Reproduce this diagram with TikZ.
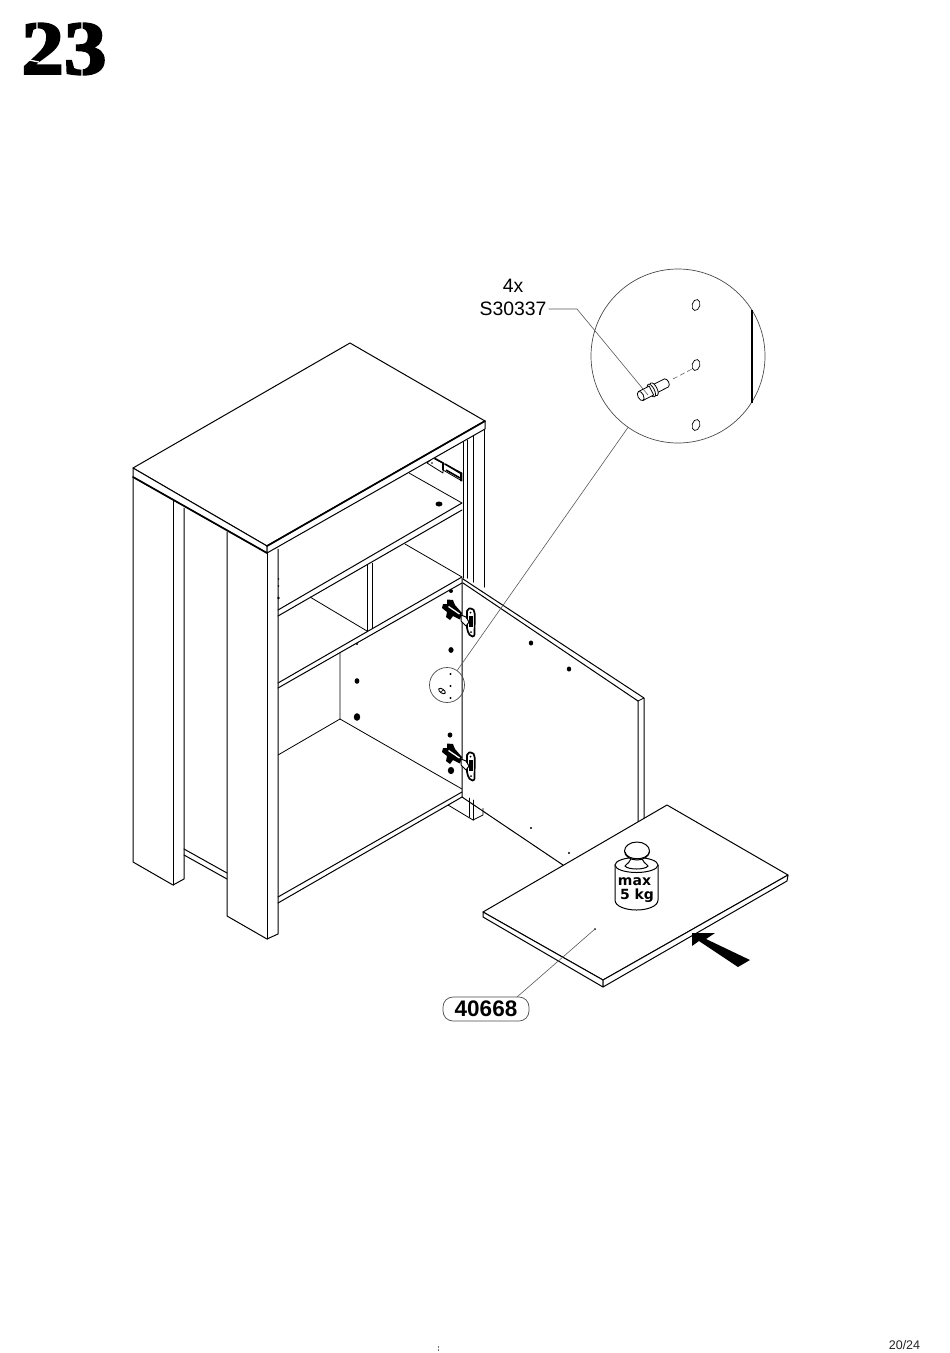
\documentclass[tikz,border=0pt]{standalone}
\usepackage{fontspec}
\setmainfont{Liberation Sans}
\newfontfamily\numfont[FakeBold=3,FakeStretch=1.12]{Liberation Serif Bold}
\newfontfamily\weightfont{DejaVu Sans}
\tikzset{
  edge/.style={line width=1pt,black,line join=round,line cap=round},
  heavy/.style={line width=1.7pt,black,line join=round,line cap=round},
  thinedge/.style={line width=.8pt,black,line join=round},
  leader/.style={line width=.6pt,black!65},
  hole/.style={fill=black,draw=none},
  lbl/.style={inner sep=0pt,font=\fontsize{19.4}{21}\selectfont},
  dowel/.style={line width=.8pt,fill=white,draw=black},
  stencilgap/.style={white,line width=1.3pt},
}
\newcommand{\hingeshape}{%
  \fill[black] (447,599.5) -- (453,600) -- (455,605) -- (462,613) -- (460,619.5) -- (453,616) -- (450,620) -- (446,617) -- (447,612) -- (442,608) -- (443,604) -- (447,604) -- cycle;
  \draw[white,line width=1.3pt] (448.5,606.5) -- (459.5,614);
  \draw[heavy,fill=white,rounded corners=2pt] (467,609) -- (472.5,608) -- (474.8,612) -- (474.5,636.5) -- (470.5,636.5) -- (467,630) -- cycle;
  \fill[black] (469,616) rectangle (473,627);
  \draw[edge,fill=white] (461,615) -- (466,617) -- (469,622) -- (466,626) -- (461,621) -- cycle;
  \fill (470.5,612.5) circle (1) (471,632) circle (1);
}
\begin{document}
\begin{tikzpicture}[x=1pt,y=-1pt]
\useasboundingbox (0,0) rectangle (950,1353);
\fill[white] (0,0) rectangle (950,1353);

% page labels
\node[inner sep=0pt,anchor=center,font=\numfont\fontsize{76}{76}\selectfont] (stepnum) at (64,49) {23};
\draw[stencilgap] (37,20) -- (37,36) (29,60) -- (39,62) (82,20) -- (82,33) (82,64) -- (82,78);
\node[inner sep=0pt,font=\fontsize{12.5}{14}\selectfont,text=black!85] (pagenum) at (904.5,1345) {20/24};
\draw[line width=.4pt,black!55,dash pattern=on 1.5pt off 1.5pt] (438,1346) -- (438,1352);

% side panel and legs
\draw[edge] (133,477) -- (133,862) -- (173,885) -- (184,879) -- (184,508);
\draw[edge] (173,501) -- (173,885);
\draw[edge] (227,532) -- (227,916) -- (267,939) -- (278,934) -- (278,549);
\draw[edge] (267,553) -- (267,939);
\draw[edge] (184,849) -- (227,873) (184,855) -- (227,879);

% right rear post
\draw[edge] (463,442) -- (463,578) (467,440) -- (467,578);
\draw[edge] (473,434) -- (473,582) (484,429) -- (484,587);

% interior
\draw[edge] (278,610) -- (462,503) (278,616) -- (462,510);
\draw[thinedge] (409,473) -- (462,503);
\fill[hole] (439,504) ellipse (3.5 and 2.5);
\draw[thinedge] (367,565) -- (367,632) (372,563) -- (372,629);
\draw[thinedge] (310,597) -- (367,631) (405,544) -- (462,577);
\draw[edge] (278,683) -- (462,577) (278,688) -- (462,583);
\draw[thinedge] (340,653) -- (340,719) -- (278,755);
\draw[thinedge] (340,719) -- (462,789);
\draw[edge] (278,897) -- (462,792) (278,903) -- (462,797);
\fill (278.5,579) circle (.8) (278.5,586) circle (.8) (278.5,598) circle (1.4);

% drawer runner
\draw[thinedge] (427,463) -- (433,458) -- (462,473) -- (462,481) -- (443,470) -- (443,473) -- cycle;
\draw[line width=1.6pt] (435,458.5) -- (443,463) -- (443,470) (445,464) -- (461,473.5) -- (461,481) (446,470) -- (460,478);
\fill (432,463) circle (.9);

% rear foot
\draw[thinedge] (448,805) -- (473,820) -- (483,815) -- (483,808);
\draw[edge] (473,800) -- (473,820);
\draw[edge] (469.5,798) -- (469.5,817);

% holes on the back wall
\fill[hole] (451,591) circle (2) (451,650) ellipse (2.6 and 2.9) (450,735) ellipse (2.4 and 2.6) (451,770.5) ellipse (3.2 and 3.6)
  (357,681) ellipse (2.4 and 2.8) (357,717) ellipse (3.2 and 3.8) (357,644) circle (1.2);
\fill[hole] (450.5,674) circle (1.2) (450.5,686) circle (1.2) (450.5,698) circle (1.2);
\draw[line width=.9pt,rotate around={-35:(442,691)}] (442,691) ellipse (3.8 and 2);
\draw[line width=.6pt] (440.5,692) -- (443.5,690);

% door
\draw[edge] (462,578) -- (462,797) -- (563,865);
\draw[edge] (463,579) -- (644,698) -- (644,818);
\draw[edge] (463,583) -- (638,701) -- (638,822);
\draw[thinedge] (638,701) -- (644,698);
\fill[hole] (531,643) ellipse (2.2 and 2.5) (569,669) ellipse (2.2 and 2.5) (531,828) circle (1.2) (569,853) circle (1.2);

% hinges
\begin{scope}\hingeshape\end{scope}
\begin{scope}[shift={(0,144)}]\hingeshape\end{scope}

% top of the cabinet
\draw[edge,fill=white] (133,468) -- (350,343) -- (485,421) -- (267,546) -- cycle;
\draw[edge,fill=white] (133,468) -- (133,477) -- (267,553) -- (267,546) -- cycle;
\draw[edge,fill=white] (267,546) -- (267,553) -- (485,429) -- (485,421) -- cycle;
\draw[heavy] (133,477) -- (267,553);
\draw[heavy] (267,546) -- (485,421);

% callouts
\node[draw=black!70,line width=.7pt,circle,minimum size=35pt,inner sep=0pt] (smallcircle) at (447,685) {};
\node[draw=black!70,line width=.7pt,circle,minimum size=174pt,inner sep=0pt] (bigcircle) at (678,356) {};
\draw[leader] (smallcircle.55) -- (bigcircle.235);
\draw[line width=1.4pt] (752,310) -- (752,403);
\draw[line width=.7pt,rotate around={-15:(696,305)}] (696,305) ellipse (3.8 and 5.6);
\draw[line width=.7pt,rotate around={-15:(696,365)}] (696,365) ellipse (3.8 and 5.6);
\draw[line width=.7pt,rotate around={-15:(696,425)}] (696,425) ellipse (3.8 and 5.6);
% dowel
\begin{scope}[shift={(640.7,396)},rotate=27]
  \draw[dowel] (15,-4.5) -- (29,-4.5) .. controls (32,-3) and (32,3) .. (29,4.5) -- (15,4.5) -- cycle;
  \draw[dowel] (15,0) ellipse (3 and 7);
  \draw[dowel] (12,0) ellipse (3 and 7);
  \draw[dowel] (0,-5) -- (12,-5) -- (12,5) -- (0,5) -- cycle;
  \draw[dowel] (0,0) ellipse (2.8 and 5);
\end{scope}
\draw[line width=.5pt,black!70,dash pattern=on 5pt off 3pt] (673,379) -- (692,369);
\node[lbl] (qty) at (513,286) {4x};
\node[lbl] (code) at (513,309) {S30337};
\coordinate (bendpt) at (577,309);
\coordinate (dowelpt) at (648,395);
\draw[leader] (code.east) ++(2,0) -- (bendpt) -- (dowelpt);

% shelf board
\draw[edge,fill=white] (483,912) -- (667,805) -- (788,875) -- (603,980) -- cycle;
\draw[edge,fill=white] (483,912) -- (483,917) -- (603,987) -- (603,980) -- cycle;
\draw[edge,fill=white] (603,980) -- (603,987) -- (787,881) -- (788,875) -- cycle;

% weight
\draw[line width=1pt,fill=white] (615,865) -- (615,900) .. controls (615,906) and (625,910) .. (636.5,910) .. controls (648,910) and (658,906) .. (658,900) -- (658,865);
\draw[line width=1pt,fill=white] (636.5,865) ellipse (21.5 and 7.5);
\draw[line width=1pt,fill=white] (631,855) .. controls (632,862) and (626,864) .. (625,866) .. controls (628,870) and (645,870) .. (648,866) .. controls (647,864) and (641,862) .. (642,855) -- cycle;
\draw[line width=1pt,fill=white] (637,851) ellipse (12.5 and 9);
\draw[line width=1pt] (625,852) .. controls (627,861) and (647,861) .. (649.5,852);
\node[inner sep=0pt,font=\weightfont\bfseries\fontsize{14}{15}\selectfont] (maxlbl) at (634.5,881.5) {max};
\node[inner sep=0pt,font=\weightfont\bfseries\fontsize{14}{15}\selectfont] (kglbl) at (637,895.5) {5 kg};

% arrow
\fill (692,933) -- (715,933) -- (706,939) -- (750,960) -- (738,967) -- (699,941) -- (692,946) -- cycle;

% part label
\node[draw=black!70,line width=.7pt,rounded corners=10pt,minimum width=86pt,minimum height=24pt,inner sep=0pt,font=\bfseries\fontsize{22.5}{24}\selectfont] (partlbl) at (486,1009) {40668};
\coordinate (partpt) at (595,929);
\fill (partpt) circle (1);
\draw[leader] (517,997) -- (partpt);
\end{tikzpicture}
\end{document}
